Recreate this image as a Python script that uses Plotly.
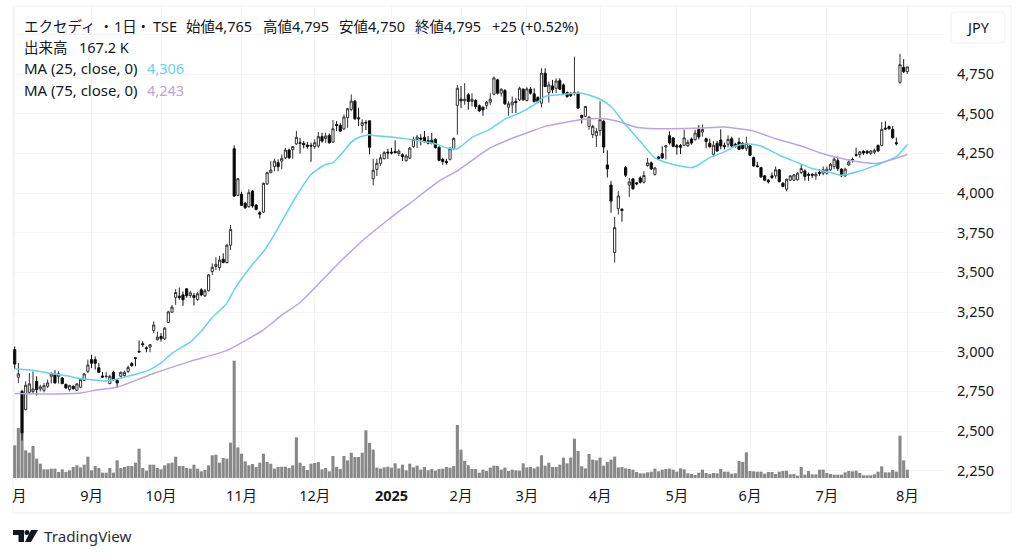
import plotly.graph_objects as go

opens = [
    3013, 2839, 2750, 2635, 2744, 2748, 2813, 2765, 2757, 2782,
    2845, 2855, 2845, 2834, 2795, 2761, 2782, 2757, 2776, 2820,
    2876, 2950, 2950, 2899, 2847, 2843, 2799, 2870, 2820, 2845,
    2849, 2876, 2925, 2962, 3002, 3050, 3025, 3029, 3134, 3075,
    3096, 3080, 3184, 3249, 3342, 3350, 3358, 3396, 3354, 3354,
    3329, 3390, 3352, 3384, 3505, 3537, 3530, 3583, 3562, 3671,
    4279, 3985, 3992, 3935, 3914, 4012, 3924, 3876, 3880, 4057,
    4128, 4166, 4191, 4201, 4222, 4271, 4273, 4309, 4316, 4313,
    4302, 4300, 4292, 4296, 4355, 4344, 4363, 4321, 4432, 4426,
    4404, 4475, 4527, 4579, 4474, 4426, 4445, 4455, 4090, 4149,
    4187, 4216, 4258, 4258, 4262, 4248, 4241, 4204, 4220, 4292,
    4338, 4346, 4351, 4330, 4332, 4338, 4288, 4212, 4199, 4212,
    4279, 4552, 4591, 4581, 4619, 4577, 4583, 4550, 4541, 4552,
    4573, 4623, 4713, 4629, 4646, 4541, 4556, 4577, 4587, 4654,
    4583, 4654, 4625, 4602, 4566, 4755, 4633, 4675, 4660, 4708,
    4681, 4633, 4625, 4629, 4629, 4489, 4483, 4420, 4368, 4361,
    4393, 4451, 4177, 4050, 3625, 3901, 3897, 4160, 4050, 4089,
    4064, 4095, 4068, 4173, 4190, 4117, 4227, 4248, 4290, 4361,
    4347, 4298, 4300, 4301, 4298, 4340, 4336, 4401, 4384, 4342,
    4313, 4244, 4313, 4334, 4300, 4307, 4342, 4307, 4321, 4313,
    4282, 4296, 4223, 4171, 4160, 4108, 4081, 4108, 4108, 4146,
    4062, 4024, 4081, 4081, 4083, 4129, 4139, 4118, 4118, 4108,
    4129, 4125, 4125, 4146, 4167, 4204, 4150, 4108, 4177, 4211,
    4242, 4242, 4263, 4263, 4250, 4257, 4300, 4300, 4409, 4418,
    4401, 4317, 4698, 4792, 4765,
]
highs = [
    3033, 2929, 2760, 2813, 2866, 2876, 2845, 2792, 2803, 2824,
    2870, 2883, 2876, 2840, 2797, 2792, 2788, 2803, 2830, 2865,
    2950, 2981, 2970, 2929, 2872, 2872, 2855, 2880, 2828, 2875,
    2880, 2912, 2935, 2965, 3071, 3065, 3033, 3048, 3191, 3126,
    3117, 3155, 3258, 3295, 3394, 3404, 3379, 3400, 3384, 3369,
    3375, 3400, 3395, 3490, 3557, 3595, 3604, 3620, 3680, 3799,
    4300, 4095, 4008, 3945, 4023, 4019, 3930, 3887, 4066, 4135,
    4201, 4216, 4212, 4243, 4285, 4280, 4295, 4391, 4348, 4327,
    4321, 4317, 4338, 4384, 4380, 4380, 4375, 4460, 4453, 4440,
    4495, 4537, 4621, 4585, 4537, 4464, 4458, 4458, 4216, 4216,
    4243, 4264, 4279, 4285, 4332, 4275, 4250, 4245, 4290, 4355,
    4367, 4370, 4391, 4359, 4380, 4345, 4295, 4222, 4216, 4290,
    4350, 4680, 4675, 4692, 4629, 4629, 4591, 4558, 4545, 4580,
    4629, 4735, 4720, 4660, 4655, 4578, 4608, 4598, 4670, 4660,
    4667, 4667, 4660, 4610, 4786, 4786, 4702, 4713, 4723, 4723,
    4690, 4640, 4635, 4859, 4640, 4493, 4550, 4483, 4430, 4409,
    4577, 4462, 4269, 4075, 3849, 4012, 3905, 4170, 4095, 4095,
    4070, 4106, 4137, 4221, 4198, 4165, 4232, 4294, 4300, 4388,
    4353, 4309, 4309, 4399, 4336, 4350, 4399, 4428, 4432, 4349,
    4342, 4328, 4328, 4401, 4317, 4363, 4355, 4317, 4349, 4320,
    4355, 4302, 4230, 4196, 4165, 4112, 4087, 4129, 4167, 4152,
    4068, 4091, 4112, 4120, 4130, 4181, 4150, 4129, 4125, 4133,
    4150, 4167, 4167, 4190, 4229, 4229, 4157, 4160, 4213, 4223,
    4286, 4265, 4270, 4270, 4272, 4280, 4305, 4447, 4451, 4426,
    4422, 4349, 4878, 4844, 4795,
]
lows = [
    2893, 2803, 2440, 2630, 2735, 2740, 2723, 2750, 2744, 2771,
    2800, 2799, 2799, 2795, 2768, 2750, 2760, 2752, 2770, 2815,
    2865, 2897, 2887, 2865, 2834, 2832, 2795, 2815, 2771, 2840,
    2845, 2866, 2905, 2908, 2996, 3030, 2996, 2996, 3117, 3071,
    3063, 3075, 3180, 3243, 3295, 3327, 3289, 3340, 3340, 3291,
    3320, 3350, 3345, 3380, 3484, 3515, 3511, 3557, 3555, 3641,
    3975, 3980, 3918, 3900, 3907, 3907, 3890, 3840, 3875, 4050,
    4125, 4138, 4138, 4149, 4212, 4215, 4216, 4304, 4248, 4281,
    4279, 4197, 4279, 4285, 4317, 4317, 4310, 4317, 4390, 4385,
    4398, 4411, 4516, 4460, 4422, 4380, 4397, 4244, 4048, 4107,
    4170, 4212, 4216, 4243, 4250, 4233, 4201, 4198, 4215, 4285,
    4283, 4300, 4317, 4306, 4306, 4280, 4200, 4178, 4178, 4205,
    4270, 4368, 4535, 4556, 4525, 4545, 4529, 4510, 4487, 4530,
    4556, 4615, 4620, 4608, 4555, 4487, 4504, 4504, 4580, 4582,
    4577, 4620, 4570, 4565, 4541, 4667, 4570, 4629, 4629, 4650,
    4620, 4600, 4605, 4614, 4529, 4437, 4478, 4399, 4347, 4290,
    4361, 4252, 4098, 3876, 3562, 3865, 3819, 4100, 3976, 4020,
    4050, 4060, 4060, 4165, 4145, 4110, 4208, 4215, 4211, 4305,
    4288, 4242, 4245, 4294, 4290, 4305, 4330, 4338, 4355, 4282,
    4286, 4229, 4259, 4275, 4275, 4286, 4286, 4286, 4271, 4275,
    4265, 4232, 4165, 4160, 4095, 4075, 4060, 4087, 4091, 4066,
    4035, 4010, 4075, 4075, 4078, 4118, 4077, 4077, 4095, 4083,
    4108, 4112, 4115, 4140, 4150, 4139, 4100, 4100, 4170, 4192,
    4229, 4223, 4240, 4245, 4240, 4245, 4260, 4295, 4400, 4400,
    4342, 4300, 4688, 4756, 4750,
]
closes = [
    2922, 2860, 2488, 2788, 2797, 2765, 2761, 2778, 2786, 2803,
    2860, 2803, 2860, 2799, 2771, 2786, 2767, 2797, 2824, 2860,
    2916, 2927, 2927, 2870, 2840, 2845, 2845, 2824, 2803, 2870,
    2870, 2901, 2912, 2958, 2998, 3045, 3021, 3044, 3168, 3092,
    3082, 3149, 3251, 3281, 3373, 3342, 3327, 3352, 3371, 3342,
    3365, 3358, 3384, 3484, 3532, 3551, 3578, 3562, 3671, 3771,
    3981, 4090, 3922, 3907, 4002, 3918, 3897, 3866, 4061, 4128,
    4145, 4201, 4166, 4218, 4271, 4222, 4292, 4351, 4313, 4304,
    4292, 4296, 4317, 4355, 4327, 4359, 4317, 4405, 4426, 4390,
    4479, 4531, 4579, 4468, 4468, 4443, 4442, 4288, 4143, 4187,
    4222, 4254, 4252, 4252, 4254, 4264, 4229, 4233, 4283, 4338,
    4353, 4340, 4323, 4313, 4313, 4286, 4206, 4199, 4193, 4279,
    4344, 4660, 4581, 4591, 4577, 4591, 4545, 4518, 4524, 4573,
    4591, 4725, 4629, 4654, 4562, 4562, 4573, 4570, 4660, 4587,
    4656, 4629, 4577, 4577, 4755, 4671, 4681, 4650, 4706, 4654,
    4629, 4608, 4615, 4633, 4535, 4476, 4545, 4478, 4420, 4388,
    4462, 4290, 4152, 3949, 3782, 3981, 3890, 4112, 4070, 4027,
    4058, 4068, 4110, 4190, 4152, 4158, 4215, 4221, 4298, 4315,
    4294, 4290, 4288, 4347, 4319, 4315, 4378, 4353, 4401, 4324,
    4292, 4301, 4265, 4296, 4292, 4338, 4296, 4296, 4275, 4280,
    4313, 4238, 4171, 4167, 4102, 4081, 4070, 4098, 4146, 4072,
    4041, 4087, 4108, 4114, 4125, 4154, 4104, 4112, 4112, 4118,
    4123, 4146, 4150, 4181, 4213, 4154, 4108, 4150, 4196, 4210,
    4238, 4259, 4252, 4252, 4265, 4269, 4265, 4401, 4403, 4405,
    4349, 4311, 4809, 4765, 4795,
]
# volume in thousands of shares
volumes = [
    657, 1005, 911, 556, 509, 643, 389, 288, 174, 174,
    188, 188, 121, 174, 121, 154, 221, 255, 214, 268,
    429, 154, 241, 201, 107, 107, 201, 107, 355, 201,
    221, 241, 241, 308, 590, 201, 147, 268, 268, 201,
    174, 255, 295, 308, 429, 241, 241, 201, 188, 268,
    188, 134, 161, 255, 456, 469, 308, 402, 389, 710,
    2358, 616, 489, 335, 255, 281, 221, 308, 489, 322,
    288, 188, 221, 228, 228, 201, 255, 817, 308, 241,
    161, 288, 302, 322, 174, 201, 134, 442, 221, 181,
    442, 355, 509, 422, 422, 509, 958, 704, 570, 208,
    188, 214, 228, 208, 295, 194, 268, 154, 288, 214,
    248, 168, 221, 154, 181, 147, 181, 188, 221, 208,
    241, 1065, 570, 342, 255, 181, 181, 107, 168, 141,
    208, 248, 241, 168, 208, 141, 168, 154, 147, 295,
    214, 221, 194, 228, 456, 248, 308, 221, 221, 268,
    409, 295, 409, 791, 543, 235, 194, 482, 369, 355,
    409, 248, 322, 369, 429, 214, 221, 194, 181, 168,
    121, 94, 94, 114, 127, 188, 134, 168, 181, 188,
    168, 127, 194, 174, 94, 80, 60, 107, 168, 100,
    80, 100, 94, 181, 127, 127, 87, 94, 342, 322,
    516, 141, 134, 127, 127, 87, 121, 121, 80, 127,
    141, 147, 74, 80, 47, 221, 67, 141, 74, 74,
    168, 168, 100, 80, 67, 67, 67, 114, 141, 134,
    147, 100, 54, 54, 54, 74, 127, 235, 114, 114,
    161, 127, 851, 355, 167,
]

ma25_bars = [0, 5, 10, 15, 18, 20, 25, 28, 30, 35, 37, 40, 43, 45, 48, 51, 54, 58,
             60, 62, 65, 68, 70, 73, 77, 81, 85, 87, 90, 92, 94, 97, 98, 103, 108, 112, 115,
             118, 121, 125, 130, 134, 138, 142, 145, 149, 153, 155, 160, 163, 167, 171,
             175, 180, 185, 187, 190, 194, 197, 200, 204, 209, 214, 218, 223, 226, 231,
             235, 241, 244]
ma25 = [2893, 2883, 2862, 2845, 2830, 2826, 2816, 2828, 2839, 2870, 2887, 2930, 2990, 3020,
        3060, 3130, 3215, 3306, 3390, 3460, 3550, 3631, 3700, 3820, 3981, 4117, 4180, 4191,
        4264, 4321, 4350, 4367, 4363, 4353, 4338, 4323, 4310, 4285, 4278, 4350, 4403, 4466,
        4504, 4556, 4608, 4619, 4629, 4629, 4591, 4545, 4430, 4326, 4221, 4179, 4160, 4178,
        4223, 4259, 4296, 4311, 4296, 4238, 4192, 4154, 4129, 4112, 4139, 4171, 4229, 4306]
ma75_bars = [0, 10, 18, 23, 28, 37, 48, 58, 68, 73, 78, 84, 90, 96, 102, 108, 116, 121, 125,
             130, 135, 140, 145, 151, 156, 161, 165, 170, 175, 180, 187, 194, 198, 202, 208,
             215, 220, 227, 231, 236, 239, 244]
ma75 = [2736, 2734, 2740, 2761, 2776, 2855, 2939, 3008, 3138, 3230, 3310, 3450, 3590, 3718,
        3830, 3935, 4075, 4140, 4205, 4284, 4336, 4378, 4420, 4447, 4466, 4468, 4451, 4414,
        4405, 4405, 4409, 4416, 4405, 4390, 4342, 4296, 4254, 4213, 4196, 4187, 4206, 4243]

month_bars = [21, 40, 62, 82, 103, 122, 140, 160, 181, 201, 222, 244]
month_labels = ['9月', '10月', '11月', '12月', '<b>2025</b>', '2月', '3月', '4月', '5月', '6月', '7月', '8月']
price_ticks = [2250, 2500, 2750, 3000, 3250, 3500, 3750, 4000, 4250, 4500, 4750, 5000]
price_labels = ['2,250', '2,500', '2,750', '3,000', '3,250', '3,500', '3,750', '4,000', '4,250', '4,500', '4,750', '']

FONT = 'Noto Sans, Noto Sans CJK JP'
TEXT = '#131722'
bars = list(range(len(closes)))

# plot area in screen pixels
LEFT, RIGHT, TOP, BOTTOM = 13, 945, 6, 478


def px_x(x):
    return (x - LEFT) / (RIGHT - LEFT)


def px_y(y):
    return (BOTTOM - y) / (BOTTOM - TOP)


fig = go.Figure()

fig.add_trace(go.Bar(x=bars, y=volumes, marker=dict(color='#888888', line_width=0), yaxis='y'))
fig.add_trace(go.Candlestick(
    x=bars, open=opens, high=highs, low=lows, close=closes, yaxis='y2',
    increasing=dict(fillcolor='#ffffff', line=dict(color='#333333', width=1)),
    decreasing=dict(fillcolor='#000000', line=dict(color='#111111', width=1)),
    whiskerwidth=0))
fig.add_trace(go.Scatter(x=ma25_bars, y=ma25, mode='lines', yaxis='y2',
                         line=dict(color='#62d6e8', width=1.5, shape='spline', smoothing=0.6)))
fig.add_trace(go.Scatter(x=ma75_bars, y=ma75, mode='lines', yaxis='y2',
                         line=dict(color='#b9a5e3', width=1.5, shape='spline', smoothing=0.6)))

fig.update_layout(
    width=1024, height=558,
    margin=dict(l=LEFT, r=1024 - RIGHT, t=TOP, b=558 - BOTTOM, autoexpand=False),
    paper_bgcolor='#ffffff', plot_bgcolor='#ffffff',
    showlegend=False, bargap=0.15, boxgap=0.15,
    font=dict(family=FONT, size=14.5, color=TEXT),
    xaxis=dict(range=[-0.465, 254.3], tickmode='array', tickvals=[0] + month_bars, ticktext=[''] + month_labels,
               showgrid=True, gridcolor='#f3f4f6', gridwidth=1, zeroline=False, showline=False,
               rangeslider=dict(visible=False), ticks='', ticklabelstandoff=7,
               tickfont=dict(family=FONT, size=14.5, color=TEXT)),
    yaxis=dict(range=[0, 9487], visible=False, showgrid=False, zeroline=False),
    yaxis2=dict(range=[2204, 5178.5], overlaying='y', side='right', tickmode='array',
                tickvals=price_ticks, ticktext=price_labels, showgrid=True, gridcolor='#f3f4f6',
                gridwidth=1, zeroline=False, showline=False, ticks='', ticklabelstandoff=11,
                tickfont=dict(family=FONT, size=14.5, color=TEXT)),
)

# outer frame and currency button
fig.add_shape(type='rect', xref='paper', yref='paper', x0=px_x(13), x1=px_x(1011), y0=px_y(513), y1=px_y(6),
              line=dict(color='#f0f1f4', width=1), layer='below')
fig.add_shape(type='path', xref='paper', yref='paper', layer='above',
              path=f'M {px_x(955)} {px_y(12)} L {px_x(1001)} {px_y(12)} Q {px_x(1005)} {px_y(12)} {px_x(1005)} {px_y(16)} '
                   f'L {px_x(1005)} {px_y(39)} Q {px_x(1005)} {px_y(43)} {px_x(1001)} {px_y(43)} '
                   f'L {px_x(955)} {px_y(43)} Q {px_x(951)} {px_y(43)} {px_x(951)} {px_y(39)} '
                   f'L {px_x(951)} {px_y(16)} Q {px_x(951)} {px_y(12)} {px_x(955)} {px_y(12)} Z',
              line=dict(color='#eef0f3', width=1), fillcolor='#ffffff')

# TradingView mark
logo_paths = [
    [(13, 530), (24, 530), (24, 542), (18.5, 542), (18.5, 535), (13, 535)],
    [(31, 530), (38, 530), (31, 542), (25, 542)],
]
for pts in logo_paths:
    path = 'M ' + ' L '.join(f'{px_x(x)} {px_y(y)}' for x, y in pts) + ' Z'
    fig.add_shape(type='path', xref='paper', yref='paper', path=path, fillcolor='#131722', line_width=0)
fig.add_shape(type='circle', xref='paper', yref='paper', x0=px_x(24.5), x1=px_x(29.5), y0=px_y(535), y1=px_y(530),
              fillcolor='#131722', line_width=0)


def label(x, y, text, color=TEXT, size=14.5, anchor='left'):
    fig.add_annotation(xref='paper', yref='paper', x=px_x(x), y=px_y(y), text=text, showarrow=False,
                       xanchor=anchor, yanchor='middle', align=anchor, borderpad=0,
                       font=dict(family=FONT, size=size, color=color))


label(23, 26, 'エクセディ')
label(106, 26, '・', anchor='center')
label(113, 26, '1日')
label(143, 26, '・', anchor='center')
label(152, 26, 'TSE')
label(185, 26, '始値4,765')
label(262, 26, '高値4,795')
label(338, 26, '安値4,750')
label(414, 26, '終値4,795')
label(491, 26, '+25 (+0.52%)')
label(23, 47, '出来高')
label(78, 47, '167.2 K')
label(23, 68, 'MA (25, close, 0)', size=15)
label(146, 68, '4,306', color='#62d6e8')
label(23, 90, 'MA (75, close, 0)', size=15)
label(146, 90, '4,243', color='#b9a5e3')
label(978, 27, 'JPY', anchor='center')
label(19, 495, '月', anchor='center')
label(43, 536, 'TradingView', size=15.2, color='#2a2e39')

fig.write_html('out.html', config={'displayModeBar': False}, post_script="document.body.style.margin='0';")
